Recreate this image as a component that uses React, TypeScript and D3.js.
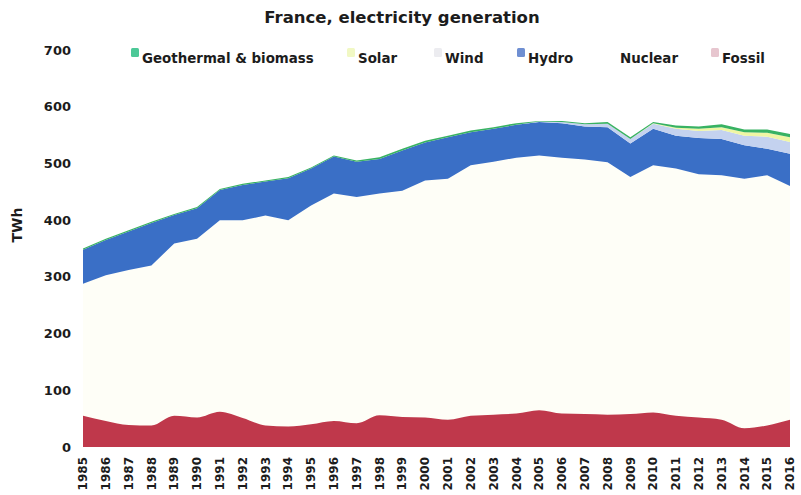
// France electricity generation, stacked areas with d3.

import * as d3 from "d3";

const years = [
  1985, 1986, 1987, 1988, 1989, 1990, 1991, 1992, 1993, 1994, 1995, 1996,
  1997, 1998, 1999, 2000, 2001, 2002, 2003, 2004, 2005, 2006, 2007, 2008,
  2009, 2010, 2011, 2012, 2013, 2014, 2015, 2016,
];

// TWh
const fossil = [
  55, 46, 39, 38, 55, 52, 62, 51, 38, 36, 40, 46, 42, 56, 53, 52, 48, 55, 57,
  59, 65, 59, 58, 57, 58, 61, 55, 52, 48, 33, 38, 48,
];
const nuclear = [
  233, 257, 273, 282, 304, 315, 338, 349, 370, 364, 386, 401, 399, 391, 399,
  418, 425, 442, 446, 451, 449, 451, 449, 445, 418, 436, 436, 429, 431, 440,
  441, 412,
];
const hydro = [
  60, 62, 68, 75, 50, 54, 53, 62, 60, 74, 65, 65, 62, 61, 71, 67, 73, 58, 58,
  58, 59, 61, 58, 62, 59, 64, 58, 64, 64, 59, 47, 57,
];
const wind = [
  0, 0, 0, 0, 0, 0, 0, 0, 0, 0, 0, 0, 0, 0, 0, 0, 0, 0, 0, 0, 1, 2, 4, 6, 8, 9,
  12, 12, 16, 17, 21, 21,
];
const solar = [
  0, 0, 0, 0, 0, 0, 0, 0, 0, 0, 0, 0, 0, 0, 0, 0, 0, 0, 0, 0, 0, 0, 0, 0, 0, 1,
  2, 4, 5, 6, 7, 8,
];
const geothermal = [
  2, 2, 2, 2, 2, 2, 2, 2, 2, 2, 2, 2, 2, 3, 3, 3, 3, 3, 3, 3, 1, 2, 2, 3, 3, 2,
  4, 4, 5, 5, 6, 6,
];

const yTicks = [0, 100, 200, 300, 400, 500, 600, 700];

const keys = ["fossil", "nuclear", "hydro", "wind", "solar", "geothermal"];
const fills: Record<string, string> = {
  fossil: "#bf384b",
  nuclear: "#fefef7",
  hydro: "#3a6fc6",
  wind: "#c4d2ef",
  solar: "#eff6a4",
  geothermal: "#38b262",
};

// x = where the label text starts
const legend = [
  { label: "Geothermal & biomass", color: "#4cc897", x: 142 },
  { label: "Solar", color: "#f1f8c4", x: 358 },
  { label: "Wind", color: "#ececf0", x: 445 },
  { label: "Hydro", color: "#6f8fd2", x: 528 },
  { label: "Nuclear", color: "none", x: 620 },
  { label: "Fossil", color: "#e7c6cf", x: 722 },
];

const font = "'DejaVu Sans', Verdana, sans-serif";
const ink = "#1c1c1c";

export default function App() {
  const width = 801;
  const height = 495;

  const rows = years.map((year, i) => ({
    year,
    fossil: fossil[i],
    nuclear: nuclear[i],
    hydro: hydro[i],
    wind: wind[i],
    solar: solar[i],
    geothermal: geothermal[i],
  }));

  const series = d3.stack().keys(keys)(rows as any);

  const scaleX = d3.scaleLinear([1985, 2016], [83, 790]);
  const scaleY = d3.scaleLinear([0, 700], [447, 50]);

  const area = d3
    .area<any>()
    .x((d) => scaleX(d.data.year))
    .y0((d) => scaleY(d[0]))
    .y1((d) => scaleY(d[1]));

  const fossilArea = d3
    .area<any>()
    .curve(d3.curveMonotoneX)
    .x((d) => scaleX(d.data.year))
    .y0((d) => scaleY(d[0]))
    .y1((d) => scaleY(d[1]));

  // nuclear drawn down to the baseline so the smooth fossil top sits on it
  const nuclearArea = d3
    .area<any>()
    .x((d) => scaleX(d.data.year))
    .y0(scaleY(0))
    .y1((d) => scaleY(d[1]));

  const order = ["nuclear", "fossil", "hydro", "wind", "solar", "geothermal"];

  return (
    <svg
      width={width}
      height={height}
      style={{ position: "absolute", left: 0, top: 0, background: "#fff" }}
      fontFamily={font}
    >
      <text
        x={402}
        y={23}
        textAnchor="middle"
        fontSize={16.5}
        fontWeight="bold"
        fill={ink}
      >
        France, electricity generation
      </text>

      {order.map((k) => {
        const s = series.find((d) => d.key === k)!;
        const gen =
          k === "fossil" ? fossilArea : k === "nuclear" ? nuclearArea : area;
        return <path key={k} d={gen(s as any) || ""} fill={fills[k]} />;
      })}

      <g fontSize={13} fontWeight="bold" fill={ink} textAnchor="end">
        {yTicks.map((t) => (
          <text key={t} x={71} y={scaleY(t)} dy="0.35em">
            {t}
          </text>
        ))}
      </g>
      <text
        transform={`translate(22, 225) rotate(-90)`}
        textAnchor="middle"
        fontSize={14}
        fontWeight="bold"
        fill={ink}
      >
        TWh
      </text>

      <g fontSize={12} fontWeight="bold" fill={ink} textAnchor="end">
        {years.map((yr) => (
          <text
            key={yr}
            transform={`translate(${scaleX(yr)}, 457) rotate(-90)`}
            dy="0.35em"
          >
            {yr}
          </text>
        ))}
      </g>

      <g fontSize={13.4} fontWeight="bold" fill={ink}>
        {legend.map((l) => (
          <g key={l.label} transform={`translate(${l.x}, 58)`}>
            {l.color !== "none" && (
              <rect x={-11} y={-10} width={8} height={9} rx={1.5} fill={l.color} />
            )}
            <text x={0} dy="0.35em">
              {l.label}
            </text>
          </g>
        ))}
      </g>
    </svg>
  );
}
